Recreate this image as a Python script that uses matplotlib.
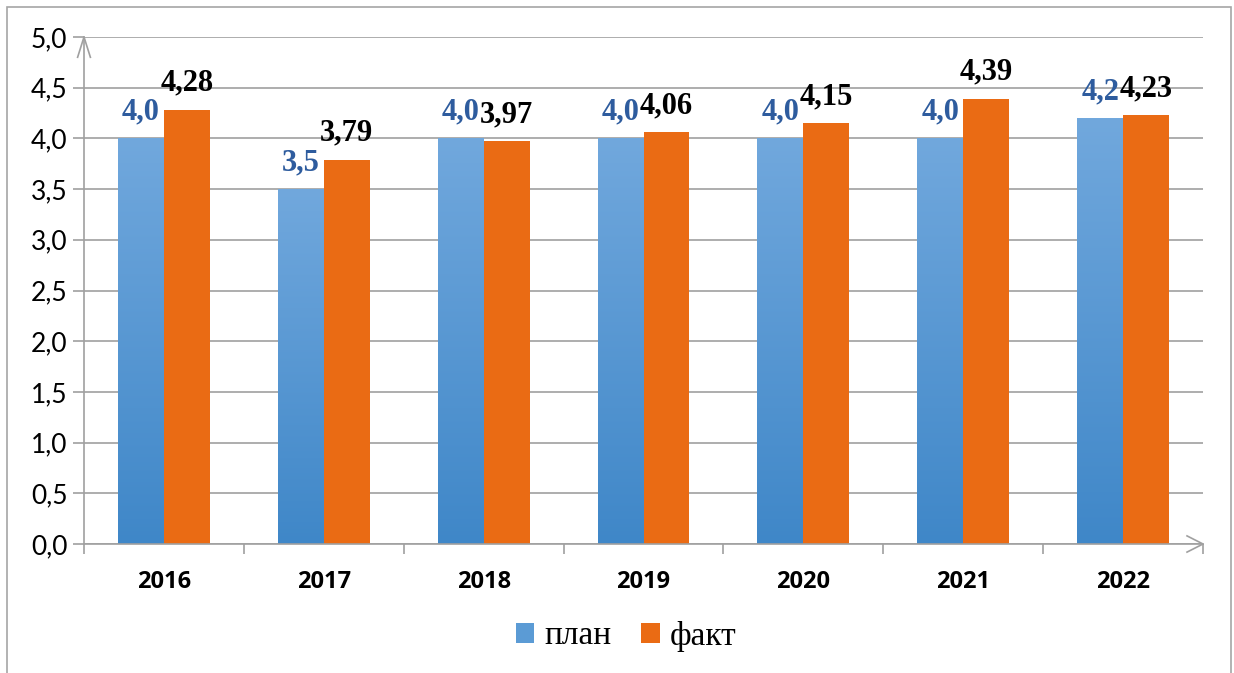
import numpy as np
import matplotlib.pyplot as plt
from matplotlib.patches import Rectangle
from matplotlib.colors import LinearSegmentedColormap

years = ["2016", "2017", "2018", "2019", "2020", "2021", "2022"]
plan = [4.0, 3.5, 4.0, 4.0, 4.0, 4.0, 4.2]
fact = [4.28, 3.79, 3.97, 4.06, 4.15, 4.39, 4.23]
plan_labels = ["4,0", "3,5", "4,0", "4,0", "4,0", "4,0", "4,2"]
fact_labels = ["4,28", "3,79", "3,97", "4,06", "4,15", "4,39", "4,23"]

W, H = 1234, 673
fig = plt.figure(figsize=(W / 100, H / 100), dpi=100)
ax = fig.add_axes([84 / W, 1 - 544 / H, (1203 - 84) / W, (544 - 37) / H])

# outer frame
fig.patches.append(Rectangle((7 / W, -0.05), (1231 - 7) / W, 1 - 7 / H + 0.05,
                             transform=fig.transFigure, fill=False,
                             edgecolor="#A6A6A6", linewidth=1.2, zorder=0))

x = np.arange(len(years))
bw = 0.2875
grey = "#A0A0A0"
orange = "#EA6B14"
blue_cmap = LinearSegmentedColormap.from_list("b", ["#3F87C8", "#71A8DD"])
grad = np.linspace(0, 1, 256).reshape(-1, 1)

for i in range(len(years)):
    x0 = x[i] - bw
    ax.imshow(grad, extent=(x0, x0 + bw, 0, plan[i]), origin="lower",
              cmap=blue_cmap, aspect="auto", zorder=2)
bars_p = ax.bar(x - bw / 2, plan, bw, color="none", zorder=2)
bars_f = ax.bar(x + bw / 2, fact, bw, color=orange, zorder=2)

for i in range(len(years)):
    ax.text(x[i] - bw / 2, plan[i] + 0.12, plan_labels[i], ha="center", va="bottom",
            fontsize=22, fontweight="bold", family="Liberation Serif", color="#2E5C9E")
    ax.text(x[i] + bw / 2, fact[i] + 0.12, fact_labels[i], ha="center", va="bottom",
            fontsize=22, fontweight="bold", family="Liberation Serif", color="black")

ax.set_xlim(-0.5, len(years) - 0.5)
ax.set_ylim(0, 5)
yt = np.arange(0, 5.01, 0.5)
ax.set_yticks(yt)
ax.set_yticklabels([f"{v:.1f}".replace(".", ",") for v in yt], fontsize=19, family="Lato")
ax.set_xticks(x)
ax.set_xticklabels(years, fontsize=17, fontweight="bold", family="Open Sans")
ax.set_xticks(np.arange(-0.5, len(years)), minor=True)
ax.tick_params(axis="x", which="major", length=0, pad=19)
ax.tick_params(axis="x", which="minor", length=7, color=grey, width=1.2, direction="out")
ax.tick_params(axis="y", length=8, color=grey, width=1.2, pad=4)
ax.grid(axis="y", color=grey, linewidth=1.2, zorder=0)
ax.set_axisbelow(True)
for s in ["top", "right"]:
    ax.spines[s].set_visible(False)
for s in ["left", "bottom"]:
    ax.spines[s].set_color(grey)
    ax.spines[s].set_linewidth(1.2)

# arrow heads on axes
ax.plot([-0.5 - 0.04, -0.5, -0.5 + 0.04], [4.8, 5.0, 4.8], color=grey, lw=1.2,
        clip_on=False, zorder=3)
ax.plot([6.5 - 0.1, 6.5, 6.5 - 0.1], [0.08, 0.0, -0.08], color=grey, lw=1.2,
        clip_on=False, zorder=3)

leg = fig.legend([bars_p, bars_f], ["план", "факт"], loc="center",
                 bbox_to_anchor=(626 / W, 1 - 636 / H), ncol=2, frameon=False,
                 prop={"family": "Liberation Serif", "size": 24},
                 handlelength=0.55, handleheight=0.55, handletextpad=0.3, columnspacing=0.9)
leg.legend_handles[0].set_facecolor("#5B9BD5")
leg.legend_handles[1].set_facecolor(orange)

fig.savefig("out.png", dpi=100)
